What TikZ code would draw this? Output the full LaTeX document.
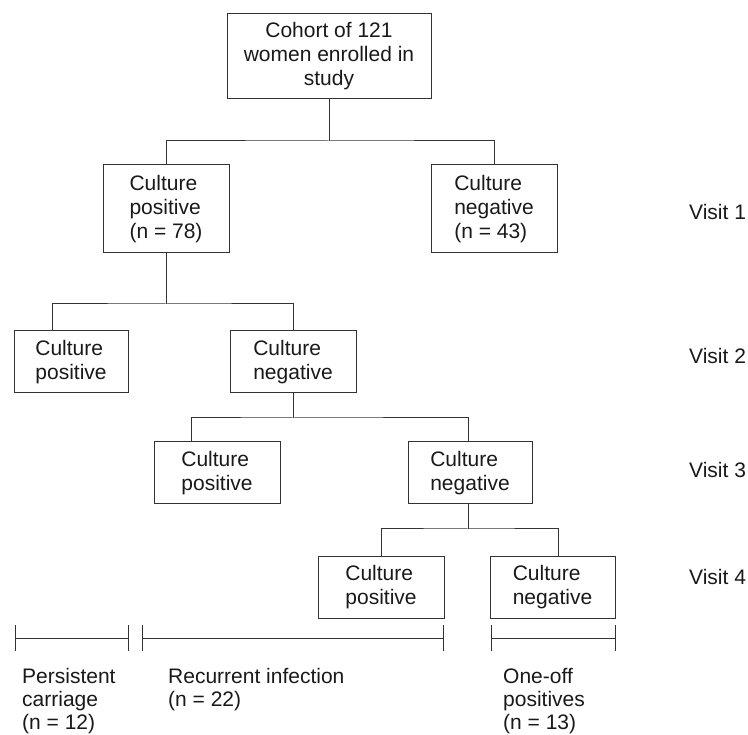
\documentclass[tikz,border=0pt]{standalone}
\usepackage{fontspec}
\setmainfont{Liberation Sans}
\begin{document}
\begin{tikzpicture}[x=1pt,y=-1pt,
  every node/.style={font=\fontsize{21}{24}\selectfont, text=black!90},
  box/.style={draw=black!80, line width=1pt, inner sep=0pt, align=left},
  link/.style={draw=black!80, line width=1pt},
  bracket/.style={draw=black!80, line width=1pt},
  lab/.style={anchor=north west, inner sep=0pt, align=left, font=\fontsize{21}{23}\selectfont},
  visit/.style={anchor=west, inner sep=0pt}]
\useasboundingbox (0,0) rectangle (748,735);

\node[box, align=center, minimum width=204pt, minimum height=85pt] (top) at (329,56.5) {Cohort of 121\\women enrolled in\\study};
\node[box, minimum width=126pt, minimum height=88pt] (v1l) at (166,209) {Culture\\positive\\(n = 78)};
\node[box, minimum width=126pt, minimum height=88pt] (v1r) at (494,209) {Culture\\negative\\(n = 43)};
\node[box, minimum width=114pt, minimum height=62pt] (v2l) at (71,362) {Culture\\positive};
\node[box, minimum width=126pt, minimum height=62pt] (v2r) at (293,362) {Culture\\negative};
\node[box, minimum width=126pt, minimum height=62pt] (v3l) at (217,473) {Culture\\positive};
\node[box, minimum width=124pt, minimum height=62pt] (v3r) at (470,473) {Culture\\negative};
\node[box, minimum width=126pt, minimum height=62pt] (v4l) at (381,587.5) {Culture\\positive};
\node[box, minimum width=125pt, minimum height=62pt] (v4r) at (552.5,587.5) {Culture\\negative};

\coordinate (j1) at (329,141);
\coordinate (j2) at (166,304);
\coordinate (j3) at (293,418);
\coordinate (j4) at (468,529);

\draw[link] (top.south) -- (j1);
\draw[link] (v1l.north) |- (j1) -| (v1r.north);
\draw[link] (v1l.south) -- (j2);
\draw[link] ([xshift=-19pt]v2l.north) |- (j2) -| (v2r.north);
\draw[link] (v2r.south) -- (j3);
\draw[link] ([xshift=-26pt]v3l.north) |- (j3) -| ([xshift=-2pt]v3r.north);
\draw[link] ([xshift=-2pt]v3r.south) -- (j4);
\draw[link] (v4l.north) |- (j4) -| ([xshift=5.5pt]v4r.north);

\foreach \a/\b in {15/128,142/443,491/615} {
  \draw[bracket] (\a,625) -- (\a,651) (\a,638) -- (\b,638) (\b,625) -- (\b,651);
}

\node[lab] (pc) at (22,668) {Persistent\\carriage\\(n = 12)};
\node[lab] (ri) at (168,668) {Recurrent infection\\(n = 22)};
\node[lab] (oo) at (503,668) {One-off\\positives\\(n = 13)};

\node[visit] (vis1) at (689,212) {Visit 1};
\node[visit] (vis2) at (689,356) {Visit 2};
\node[visit] (vis3) at (689,470) {Visit 3};
\node[visit] (vis4) at (689,577) {Visit 4};
\end{tikzpicture}
\end{document}
